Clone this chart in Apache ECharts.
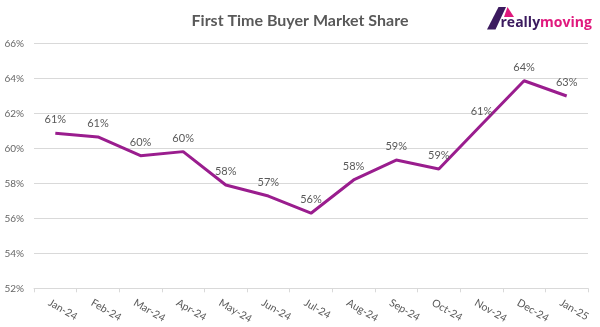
<!DOCTYPE html>
<html>
<head>
<meta charset="utf-8">
<script src="https://cdn.jsdelivr.net/npm/echarts@6/dist/echarts.min.js"></script>
<style>
  html, body { margin: 0; padding: 0; background: #ffffff; }
  #chart { width: 600px; height: 327px; }
</style>
</head>
<body>
<div id="chart"></div>
<script>
// Monthly first-time buyer share of the market (%)
const months = ['Jan-24', 'Feb-24', 'Mar-24', 'Apr-24', 'May-24', 'Jun-24', 'Jul-24',
                'Aug-24', 'Sep-24', 'Oct-24', 'Nov-24', 'Dec-24', 'Jan-25'];
const ftbShare = [60.86, 60.65, 59.58, 59.81, 57.90, 57.27, 56.29,
                  58.19, 59.33, 58.82, 61.35, 63.86, 62.99];
const yTicks = { min: 52, max: 66, step: 2 };

const chart = echarts.init(document.getElementById('chart'), null, { renderer: 'canvas' });
const font = 'Lato, "Open Sans", sans-serif';

chart.setOption({
  animation: false,
  backgroundColor: '#ffffff',
  title: {
    text: 'First Time Buyer Market Share',
    left: 'center',
    top: 8,
    textStyle: { fontFamily: font, fontSize: 16, fontWeight: 'bold', color: '#595959' }
  },
  grid: { left: 34, right: 12, top: 43.3, bottom: 38.7, containLabel: false },
  xAxis: {
    type: 'category',
    data: months,
    boundaryGap: true,
    axisLine: { lineStyle: { color: '#d9d9d9', width: 1 } },
    axisTick: { show: true, alignWithLabel: false, length: 4, lineStyle: { color: '#d9d9d9' } },
    axisLabel: {
      interval: 0,
      rotate: -30,
      align: 'left',
      verticalAlign: 'middle',
      margin: 17,
      padding: [0, 0, 0, -7],
      fontFamily: font,
      fontSize: 10.5,
      color: '#595959'
    }
  },
  yAxis: {
    type: 'value',
    min: yTicks.min,
    max: yTicks.max,
    interval: yTicks.step,
    axisLine: { show: false },
    axisTick: { show: false },
    splitLine: { lineStyle: { color: '#d9d9d9', width: 1 } },
    axisLabel: {
      formatter: '{value}%',
      margin: 10,
      fontFamily: font,
      fontSize: 10,
      color: '#666666'
    }
  },
  series: [{
    type: 'line',
    data: ftbShare,
    symbol: 'circle',
    symbolSize: 0,
    showSymbol: true,
    itemStyle: { color: '#9a1d8e' },
    lineStyle: { color: '#9a1d8e', width: 3 },
    label: {
      show: true,
      position: 'top',
      distance: 8,
      fontFamily: font,
      fontSize: 11,
      color: '#595959',
      formatter: p => Math.round(p.value) + '%'
    }
  }],
  graphic: [
    // reallymoving logo: roof stroke, pink gable and wordmark
    {
      type: 'polygon',
      shape: { points: [[487, 29.5], [495.5, 29.5], [506, 7], [498.5, 7]] },
      style: { fill: '#3b1a5e' }
    },
    {
      type: 'polygon',
      shape: { points: [[504, 17], [507.5, 7], [514, 17]] },
      style: { fill: '#e0197d' }
    },
    {
      type: 'text',
      x: 500.5,
      y: 30,
      style: {
        text: '{a|really}{b|moving}',
        verticalAlign: 'bottom',
        rich: {
          a: { fontFamily: '"Open Sans", sans-serif', fontSize: 14, fontWeight: 'bold', fill: '#3b1a5e' },
          b: { fontFamily: '"Open Sans", sans-serif', fontSize: 14, fontWeight: 'bold', fill: '#e0197d' }
        }
      }
    }
  ]
});
</script>
</body>
</html>
